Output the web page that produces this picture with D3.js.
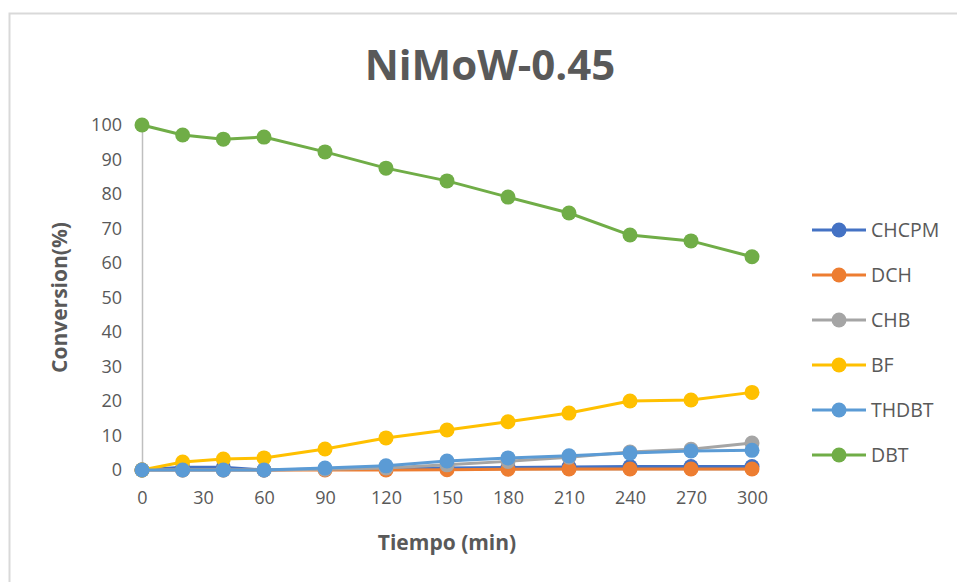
<!DOCTYPE html>
<html>
<head>
<meta charset="utf-8">
<script src="https://cdn.jsdelivr.net/npm/d3@7"></script>
<style>
  html, body { margin: 0; padding: 0; background: #fff; }
  svg { display: block; font-family: "Open Sans", "Noto Sans", sans-serif; }
</style>
</head>
<body>
<svg id="chart" width="957" height="582"></svg>
<script>
// Sampling times (min)
const times = [0, 20, 40, 60, 90, 120, 150, 180, 210, 240, 270, 300];

// Conversion (%) per product
const CHCPM = [0, 0.8, 0.8, 0, 0.3, 0.5, 0.6, 0.7, 0.9, 1.0, 1.0, 1.0];
const DCH   = [0, 0, 0, 0, 0, 0, 0.1, 0.2, 0.3, 0.3, 0.3, 0.3];
const CHB   = [0, 0, 0, 0, 0.2, 0.6, 1.5, 2.5, 3.7, 5.2, 6.0, 7.8];
const BF    = [0, 2.3, 3.2, 3.5, 6.1, 9.3, 11.6, 14.0, 16.5, 20.0, 20.3, 22.5];
const THDBT = [0, 0, 0, 0, 0.6, 1.2, 2.6, 3.5, 4.1, 4.9, 5.5, 5.7];
const DBT   = [100, 97.1, 95.9, 96.5, 92.2, 87.5, 83.8, 79.1, 74.5, 68.1, 66.4, 61.8];

const seriesNames = ["CHCPM", "DCH", "CHB", "BF", "THDBT", "DBT"];
const seriesValues = [CHCPM, DCH, CHB, BF, THDBT, DBT];
const seriesColors = ["#4472C4", "#ED7D31", "#A5A5A5", "#FFC000", "#5B9BD5", "#70AD47"];

const xTicks = [0, 30, 60, 90, 120, 150, 180, 210, 240, 270, 300];
const yTicks = [0, 10, 20, 30, 40, 50, 60, 70, 80, 90, 100];

const titleText = "NiMoW-0.45";
const xTitle = "Tiempo (min)";
const yTitle = "Conversion(%)";

const svg = d3.select("#chart");
const textColor = "#595959";

// Chart frame
svg.append("rect")
  .attr("x", 9.5).attr("y", 13.5)
  .attr("width", 1000).attr("height", 1000)
  .attr("fill", "#fff")
  .attr("stroke", "#d9d9d9").attr("stroke-width", 2);

const plot = { left: 142, right: 752, top: 125, bottom: 470 };

const x = d3.scaleLinear().domain([0, 300]).range([plot.left, plot.right]);
const y = d3.scaleLinear().domain([0, 100]).range([plot.bottom, plot.top]);

// Title
svg.append("text")
  .attr("x", 490).attr("y", 80)
  .attr("text-anchor", "middle")
  .attr("font-size", 42).attr("font-weight", "bold")
  .attr("fill", textColor)
  .text(titleText);

// Y axis
const yAxis = svg.append("g")
  .attr("transform", `translate(${plot.left},0)`)
  .call(d3.axisLeft(y).tickValues(yTicks).tickSize(0).tickPadding(20));
yAxis.select(".domain").attr("stroke", "#bfbfbf").attr("stroke-width", 1.5);
yAxis.selectAll("text").attr("font-size", 18).attr("fill", textColor)
  .attr("font-family", "Open Sans, sans-serif");

// X axis
const xAxis = svg.append("g")
  .attr("transform", `translate(0,${plot.bottom})`)
  .call(d3.axisBottom(x).tickValues(xTicks).tickSize(0).tickPadding(21));
xAxis.select(".domain").attr("stroke", "#d9d9d9").attr("stroke-width", 1);
xAxis.selectAll("text").attr("font-size", 18).attr("fill", textColor)
  .attr("font-family", "Open Sans, sans-serif");

// Axis titles
svg.append("text")
  .attr("x", 447).attr("y", 550)
  .attr("text-anchor", "middle")
  .attr("font-size", 21).attr("font-weight", "bold")
  .attr("fill", textColor)
  .text(xTitle);

svg.append("text")
  .attr("transform", `translate(67,${(plot.top + plot.bottom) / 2}) rotate(-90)`)
  .attr("text-anchor", "middle")
  .attr("font-size", 21).attr("font-weight", "bold")
  .attr("fill", textColor)
  .text(yTitle);

// Series lines and markers
const line = d3.line()
  .x((d, i) => x(times[i]))
  .y(d => y(d));

seriesValues.forEach((vals, s) => {
  const g = svg.append("g");
  g.append("path")
    .datum(vals)
    .attr("d", line)
    .attr("fill", "none")
    .attr("stroke", seriesColors[s])
    .attr("stroke-width", 3)
    .attr("stroke-linejoin", "round");
  g.selectAll("circle")
    .data(vals)
    .join("circle")
    .attr("cx", (d, i) => x(times[i]))
    .attr("cy", d => y(d))
    .attr("r", 7.5)
    .attr("fill", seriesColors[s]);
});

// Legend
const legend = svg.append("g");
seriesNames.forEach((name, s) => {
  const ly = 230 + s * 45;
  legend.append("line")
    .attr("x1", 812).attr("x2", 866)
    .attr("y1", ly).attr("y2", ly)
    .attr("stroke", seriesColors[s]).attr("stroke-width", 3);
  legend.append("circle")
    .attr("cx", 839).attr("cy", ly).attr("r", 7.5)
    .attr("fill", seriesColors[s]);
  legend.append("text")
    .attr("x", 871).attr("y", ly)
    .attr("dy", "0.35em")
    .attr("font-size", 19.5)
    .attr("fill", textColor)
    .text(name);
});
</script>
</body>
</html>
